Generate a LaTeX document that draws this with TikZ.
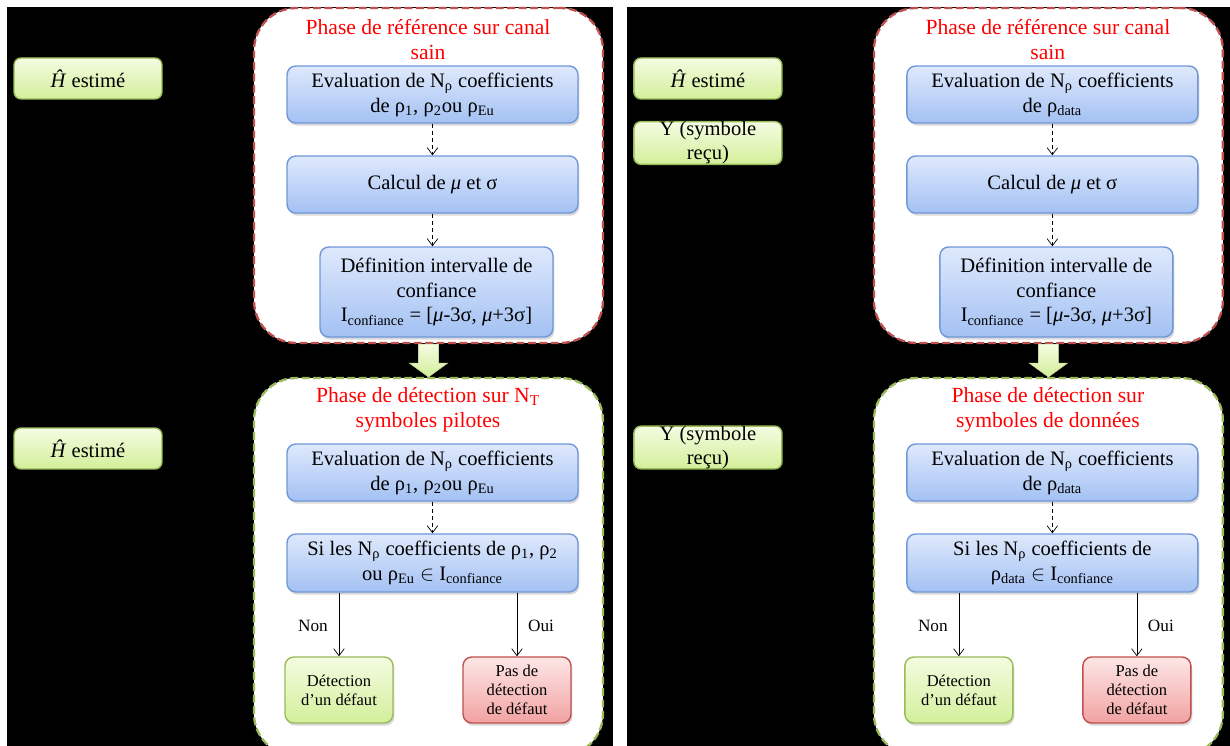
\documentclass[tikz,border=0pt]{standalone}
\usepackage{fontspec}
\setmainfont{Liberation Serif}
\usetikzlibrary{arrows.meta,calc,shadows}
\definecolor{bleuH}{HTML}{DFE9FC}
\definecolor{bleuB}{HTML}{A3C1F3}
\definecolor{bleuT}{HTML}{6F97DA}
\definecolor{vertH}{HTML}{F4FCE2}
\definecolor{vertB}{HTML}{D3EF9A}
\definecolor{vertT}{HTML}{9BBB59}
\definecolor{rougeH}{HTML}{FDE6E6}
\definecolor{rougeB}{HTML}{F2A2A2}
\definecolor{rougeT}{HTML}{C0504D}
\newcommand{\PTip}{Straight Barb[length=4pt,width=6pt]}
\tikzset{bloc/.style={draw=bleuT,line width=.8pt,rounded corners=5pt,top color=bleuH,bottom color=bleuB,align=center,inner sep=1pt,font=\fontsize{11.7}{14.2}\selectfont,drop shadow={opacity=.3,shadow xshift=.8pt,shadow yshift=-1.5pt}}}
\tikzset{etiq/.style={draw=vertT,line width=.8pt,rounded corners=4pt,top color=vertH,bottom color=vertB,align=center,inner sep=0pt,minimum width=2.96cm,minimum height=.82cm,font=\fontsize{11.7}{13.7}\selectfont}}
\tikzset{oui/.style={draw=vertT,line width=.8pt,rounded corners=5pt,top color=vertH,bottom color=vertB,align=center,inner sep=0pt,minimum width=2.16cm,minimum height=1.32cm,font=\fontsize{9.4}{11}\selectfont,drop shadow={opacity=.3,shadow xshift=.8pt,shadow yshift=-1.5pt}}}
\tikzset{non/.style={oui,draw=rougeT,top color=rougeH,bottom color=rougeB}}
\tikzset{cadre/.style={draw=#1,fill=white,line width=1.3pt,dash pattern={on 4.5pt off 2pt},rounded corners=24pt,minimum width=6.98cm}}
\tikzset{titre/.style={text=red,align=center,font=\fontsize{12.3}{14.2}\selectfont}}
\tikzset{pointille/.style={thin,dash pattern={on 2.5pt off 1.5pt},-{\PTip}}}
\tikzset{fleche/.style={thin,-{\PTip}}}
\tikzset{grosse/.style={draw=vertT!60,fill=vertB,top color=vertH,bottom color=vertB}}

\begin{document}
\begin{tikzpicture}[x=0.02cm,y=-0.02cm]
\useasboundingbox(0,0)rectangle(1230,746);\clip(0,0)rectangle(1230,746);
\fill(7,7)rectangle(613,746);\fill(627,7)rectangle(1230,746);
\begin{scope}
\node[cadre=rougeT,minimum height=6.7cm](refL)at(428.5,175.5){};
\node[cadre=vertT,minimum height=7.56cm](detL)at(428.5,567){};
\fill[grosse]($(refL.south)+(-10,0)$)--($(refL.south)+(-10,19)$)--($(refL.south)+(-19,19)$)--(detL.north)--($(refL.south)+(19,19)$)--($(refL.south)+(10,19)$)--($(refL.south)+(10,0)$)--cycle;
\node[titre](titreRefL)at(428,39.5){Phase de référence sur canal\\sain};
\node[titre](titreDetL)at(428,409.5){Phase de détection sur N\textsubscript{T}\\symboles pilotes};
\node[etiq](hL)at(88,78.5){\textit{Ĥ} estimé};\node[etiq](h2L)at(88,448.5){\textit{Ĥ} estimé};
\node[bloc,minimum width=5.82cm,minimum height=1.14cm](evalL)at(432.5,94.5){Evaluation de N\textsubscript{ρ} coefficients\\de ρ\textsubscript{1}, ρ\textsubscript{2}ou ρ\textsubscript{Eu}};
\node[bloc,minimum width=5.82cm,minimum height=1.14cm](calcL)at(432.5,184.5){Calcul de \textit{μ} et σ};
\node[bloc,minimum width=4.66cm,minimum height=1.8cm](defL)at(436.5,292){Définition intervalle de\\confiance\\I\textsubscript{confiance} = [\textit{μ}-3σ, \textit{μ}+3σ]};
\node[bloc,minimum width=5.82cm,minimum height=1.14cm](eval2L)at(432.5,472.5){Evaluation de N\textsubscript{ρ} coefficients\\de ρ\textsubscript{1}, ρ\textsubscript{2}ou ρ\textsubscript{Eu}};
\node[bloc,minimum width=5.82cm,minimum height=1.16cm](testL)at(432.5,563){Si les N\textsubscript{ρ} coefficients de ρ\textsubscript{1}, ρ\textsubscript{2}\\ou ρ\textsubscript{Eu} $\in$ I\textsubscript{confiance}};
\node[oui](defautL)at(339,690){Détection\\d'un défaut};\node[non](sansL)at(517,690){Pas de\\détection\\de défaut};
\draw[pointille](evalL)--(calcL);\draw[pointille](calcL)--(calcL|-defL.north);\draw[pointille](eval2L)--(testL);
\draw[fleche](testL.south-|defautL)--(defautL);\draw[fleche](testL.south-|sansL)--(sansL);
\node[font=\fontsize{9.8}{11}\selectfont](nonL)at(313,626){Non};\node[font=\fontsize{9.8}{11}\selectfont](ouiL)at(541,626){Oui};
\end{scope}
\begin{scope}[xshift=12.4cm]
\node[cadre=rougeT,minimum height=6.7cm](refR)at(428.5,175.5){};
\node[cadre=vertT,minimum height=7.56cm](detR)at(428.5,567){};
\fill[grosse]($(refR.south)+(-10,0)$)--($(refR.south)+(-10,19)$)--($(refR.south)+(-19,19)$)--(detR.north)--($(refR.south)+(19,19)$)--($(refR.south)+(10,19)$)--($(refR.south)+(10,0)$)--cycle;
\node[titre](titreRefR)at(428,39.5){Phase de référence sur canal\\sain};
\node[titre](titreDetR)at(428,409.5){Phase de détection sur\\symboles de données};
\node[etiq](hR)at(88,78.5){\textit{Ĥ} estimé};\node[etiq](yR)at(88,143){Y (symbole\\reçu)};\node[etiq](y2R)at(88,447.5){Y (symbole\\reçu)};
\node[bloc,minimum width=5.82cm,minimum height=1.14cm](evalR)at(432.5,94.5){Evaluation de N\textsubscript{ρ} coefficients\\de ρ\textsubscript{data}};
\node[bloc,minimum width=5.82cm,minimum height=1.14cm](calcR)at(432.5,184.5){Calcul de \textit{μ} et σ};
\node[bloc,minimum width=4.66cm,minimum height=1.8cm](defR)at(436.5,292){Définition intervalle de\\confiance\\I\textsubscript{confiance} = [\textit{μ}-3σ, \textit{μ}+3σ]};
\node[bloc,minimum width=5.82cm,minimum height=1.14cm](eval2R)at(432.5,472.5){Evaluation de N\textsubscript{ρ} coefficients\\de ρ\textsubscript{data}};
\node[bloc,minimum width=5.82cm,minimum height=1.16cm](testR)at(432.5,563){Si les N\textsubscript{ρ} coefficients de\\ρ\textsubscript{data} $\in$ I\textsubscript{confiance}};
\node[oui](defautR)at(339,690){Détection\\d'un défaut};\node[non](sansR)at(517,690){Pas de\\détection\\de défaut};
\draw[pointille](evalR)--(calcR);\draw[pointille](calcR)--(calcR|-defR.north);\draw[pointille](eval2R)--(testR);
\draw[fleche](testR.south-|defautR)--(defautR);\draw[fleche](testR.south-|sansR)--(sansR);
\node[font=\fontsize{9.8}{11}\selectfont](nonR)at(313,626){Non};\node[font=\fontsize{9.8}{11}\selectfont](ouiR)at(541,626){Oui};
\end{scope}
\end{tikzpicture}
\end{document}
